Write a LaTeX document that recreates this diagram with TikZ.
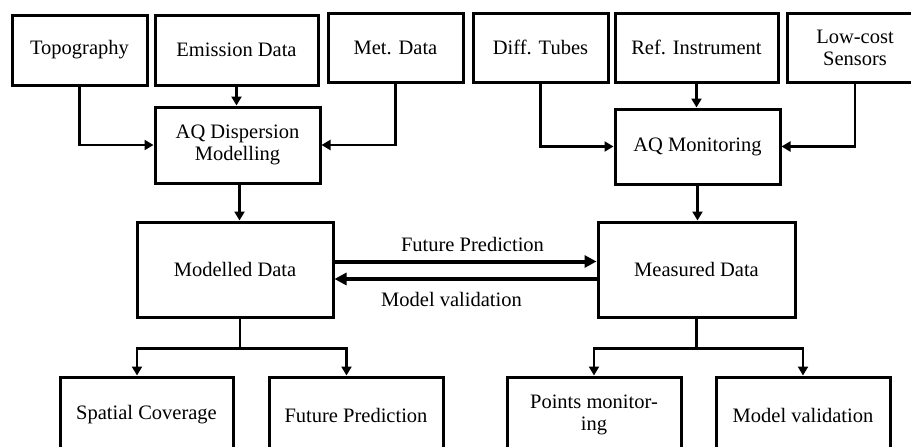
\documentclass[tikz,border=0pt]{standalone}
\usepackage{fontspec}
\setmainfont{Liberation Serif}
\usetikzlibrary{arrows.meta,calc}

\tikzset{
  box/.style={draw, line width=3pt, align=center, inner sep=0pt,
    font=\fontsize{20.5}{22}\selectfont},
  arr/.style={line width=2.5pt, -{Triangle[length=9pt,width=10pt]}},
  link/.style={line width=4pt, -{Triangle[length=12pt,width=12pt]}},
  lbl/.style={font=\fontsize{20.5}{22}\selectfont}
}

\begin{document}
\begin{tikzpicture}[x=1pt,y=-1pt]
  \clip (0,0) rectangle (911,447);
  \fill[white] (0,0) rectangle (911,447);

  % inputs
  \node [box, minimum width=135, minimum height=70] (topo) at (79.5,50) {Topography};
  \node [box, minimum width=163, minimum height=70] (emis) at (236.5,50) {Emission Data};
  \node [box, minimum width=135, minimum height=69] (met) at (395.5,47.5) {Met. Data};
  \node [box, minimum width=135, minimum height=69] (diff) at (540.5,47.5) {Diff. Tubes};
  \node [box, minimum width=163, minimum height=69] (ref) at (696.5,47.5) {Ref. Instrument};
  \node [box, minimum width=136, minimum height=69] (low) at (855,47.5) {Low-cost\\Sensors};

  % processing
  \node [box, minimum width=165, minimum height=76] (disp) at (237.5,145) {AQ Dispersion\\Modelling};
  \node [box, minimum width=165, minimum height=75] (mon) at (697.5,146.5) {AQ Monitoring};

  % data
  \node [box, minimum width=196, minimum height=95] (modl) at (235,269.5) {Modelled Data};
  \node [box, minimum width=197, minimum height=95] (meas) at (696.5,269.5) {Measured Data};

  % outputs
  \node [box, minimum width=173, minimum height=76] (spat) at (146.5,415) {Spatial Coverage};
  \node [box, minimum width=174, minimum height=76] (fut) at (356,415) {Future Prediction};
  \node [box, minimum width=174, minimum height=76] (pts) at (594,415) {Points monitor-\\ing};
  \node [box, minimum width=174, minimum height=76] (val) at (803,415) {Model validation};

  \draw [arr] (topo.south) |- (disp.west);
  \draw [arr] (emis.south) -- (emis.south |- disp.north);
  \draw [arr] (met.south) |- (disp.east);

  \draw [arr] (diff.south) |- (mon.west);
  \draw [arr] (ref.south) -- (ref.south |- mon.north);
  \draw [arr] (low.south) |- (mon.east);

  \draw [arr] ([xshift=2pt]disp.south) -- ([xshift=2pt]disp.south |- modl.north);
  \draw [arr] (mon.south) -- (mon.south |- meas.north);

  \draw [link] ($(modl.east)+(0,-8)$) -- ($(meas.west)+(0,-8)$)
    node [lbl, midway, above=4pt, xshift=7pt] (fp) {Future Prediction};
  \draw [link] ($(meas.west)+(0,9.5)$) -- ($(modl.east)+(0,9.5)$)
    node [lbl, midway, below=8pt, xshift=-14pt] (mv) {Model validation};

  \draw [line width=2.5pt] ([xshift=5pt]modl.south) -- ++(0,30) coordinate (fk1);
  \draw [arr] (fk1) -| ([xshift=-9.5]spat.north);
  \draw [arr] (fk1) -| ([xshift=-9.5]fut.north);

  \draw [line width=2.5pt] (meas.south) -- ++(0,30) coordinate (fk2);
  \draw [arr] (fk2) -| (pts.north);
  \draw [arr] (fk2) -| (val.north);
\end{tikzpicture}
\end{document}
